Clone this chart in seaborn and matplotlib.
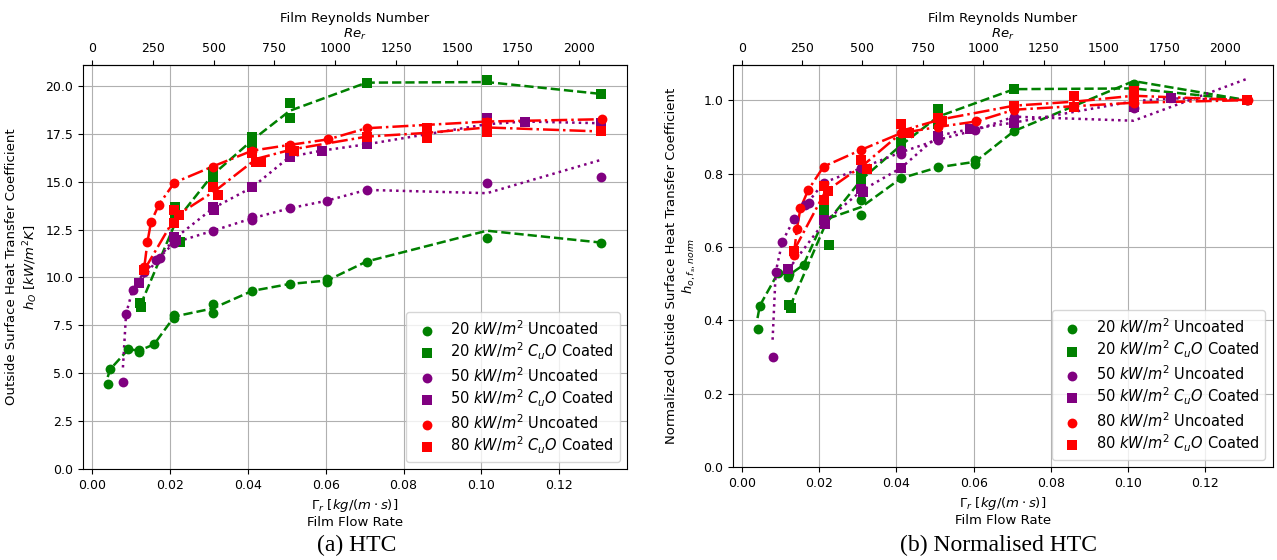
import matplotlib
matplotlib.use("Agg")
import matplotlib.pyplot as plt
import seaborn as sns

# film flow rate Gamma_r [kg/(m s)] -> film Reynolds number
RE_FACTOR = 16000
re_ticks = [0, 250, 500, 750, 1000, 1250, 1500, 1750, 2000]

labels = [
    "20 $kW/m^2$ Uncoated",
    "20 $kW/m^2$ $C_uO$ Coated",
    "50 $kW/m^2$ Uncoated",
    "50 $kW/m^2$ $C_uO$ Coated",
    "80 $kW/m^2$ Uncoated",
    "80 $kW/m^2$ $C_uO$ Coated",
]

# 20 kW/m2 uncoated
u20_x = [0.0041, 0.0047, 0.0094, 0.0121, 0.0122, 0.0160, 0.0212, 0.0212, 0.0310, 0.0310,
         0.0412, 0.0508, 0.0604, 0.0604, 0.0705, 0.1014, 0.1307]
u20_htc = [4.44, 5.20, 6.25, 6.13, 6.22, 6.51, 7.90, 8.02, 8.13, 8.62,
           9.30, 9.66, 9.78, 9.90, 10.83, 12.08, 11.82]
u20_norm = [0.376, 0.440, 0.529, 0.519, 0.526, 0.551, 0.668, 0.679, 0.688, 0.729,
            0.787, 0.817, 0.827, 0.838, 0.916, 1.045, 1.000]
u20_line_x = [0.0041, 0.0047, 0.0094, 0.0122, 0.0160, 0.0212, 0.0310, 0.0412, 0.0508,
              0.0604, 0.0705, 0.1014, 0.1307]
u20_line_htc = [4.80, 5.20, 6.25, 6.18, 6.51, 7.96, 8.38, 9.30, 9.66, 9.84, 10.83, 12.44, 11.82]
u20_line_norm = [0.406, 0.440, 0.529, 0.523, 0.551, 0.673, 0.709, 0.787, 0.817, 0.832,
                 0.916, 1.052, 1.000]

# 20 kW/m2 CuO coated
c20_x = [0.0123, 0.0127, 0.0213, 0.0213, 0.0226, 0.0310, 0.0310, 0.0412, 0.0412, 0.0508,
         0.0508, 0.0705, 0.1014, 0.1307]
c20_htc = [8.65, 8.48, 13.70, 13.35, 11.87, 15.20, 15.50, 17.35, 17.00, 19.10,
           18.30, 20.17, 20.30, 19.58]
c20_norm = [0.442, 0.433, 0.700, 0.682, 0.606, 0.776, 0.792, 0.886, 0.868, 0.975,
            0.935, 1.030, 1.037, 1.000]
c20_line_x = [0.0125, 0.0217, 0.0310, 0.0412, 0.0508, 0.0705, 0.1014, 0.1307]
c20_line_htc = [8.56, 12.97, 15.35, 17.17, 18.70, 20.17, 20.20, 19.58]
c20_line_norm = [0.437, 0.662, 0.784, 0.877, 0.955, 1.030, 1.032, 1.000]

# 50 kW/m2 uncoated
u50_x = [0.0080, 0.0088, 0.0105, 0.0135, 0.0164, 0.0174, 0.0212, 0.0310, 0.0412, 0.0412,
         0.0508, 0.0604, 0.0705, 0.1014, 0.1307]
u50_htc = [4.56, 8.10, 9.37, 10.30, 10.91, 11.00, 11.82, 12.43, 13.18, 13.00,
           13.61, 14.01, 14.57, 14.92, 15.26]
u50_norm = [0.299, 0.531, 0.614, 0.675, 0.715, 0.721, 0.775, 0.815, 0.864, 0.852,
            0.892, 0.918, 0.955, 0.978, 1.000]
u50_line_x = [0.0080, 0.0088, 0.0105, 0.0135, 0.0169, 0.0212, 0.0310, 0.0412, 0.0508,
              0.0604, 0.0705, 0.1014, 0.1307]
u50_line_htc = [5.30, 8.10, 9.37, 10.30, 10.95, 11.82, 12.43, 13.09, 13.61, 14.01,
                14.57, 14.40, 16.14]
u50_line_norm = [0.347, 0.531, 0.614, 0.675, 0.718, 0.775, 0.815, 0.858, 0.892, 0.918,
                 0.955, 0.944, 1.058]

# 50 kW/m2 CuO coated
c50_x = [0.0121, 0.0212, 0.0215, 0.0310, 0.0313, 0.0412, 0.0508, 0.0590, 0.0705, 0.1014,
         0.1014, 0.1112, 0.1307]
c50_htc = [9.73, 12.13, 11.95, 13.70, 13.52, 14.71, 16.30, 16.62, 16.95, 18.30,
           17.70, 18.14, 18.05]
c50_norm = [0.539, 0.672, 0.662, 0.759, 0.749, 0.815, 0.903, 0.921, 0.939, 1.014,
            0.981, 1.005, 1.000]
c50_line_x = [0.0121, 0.0213, 0.0311, 0.0412, 0.0508, 0.0590, 0.0705, 0.1014, 0.1112, 0.1307]
c50_line_htc = [9.73, 12.04, 13.61, 14.71, 16.30, 16.62, 16.95, 18.00, 18.14, 18.05]
c50_line_norm = [0.539, 0.667, 0.754, 0.815, 0.903, 0.921, 0.939, 0.997, 1.005, 1.000]

# 80 kW/m2 uncoated
u80_x = [0.0135, 0.0143, 0.0152, 0.0172, 0.0212, 0.0310, 0.0412, 0.0508, 0.0607, 0.0705,
         0.1014, 0.1310]
u80_htc = [10.56, 11.87, 12.88, 13.79, 14.95, 15.79, 16.62, 16.92, 17.21, 17.79, 18.14, 18.26]
u80_norm = [0.578, 0.650, 0.705, 0.755, 0.819, 0.865, 0.910, 0.927, 0.942, 0.974, 0.993, 1.000]
u80_line_x = u80_x
u80_line_htc = u80_htc
u80_line_norm = u80_norm

# 80 kW/m2 CuO coated
c80_x = [0.0135, 0.0212, 0.0212, 0.0224, 0.0310, 0.0324, 0.0412, 0.0421, 0.0433, 0.0508,
         0.0518, 0.0705, 0.0861, 0.0861, 0.1014, 0.1014, 0.1307]
c80_htc = [10.40, 13.52, 12.85, 13.25, 14.74, 14.31, 16.48, 16.05, 16.05, 16.75,
           16.60, 17.35, 17.80, 17.30, 18.05, 17.60, 17.62]
c80_norm = [0.590, 0.767, 0.729, 0.752, 0.837, 0.812, 0.935, 0.911, 0.911, 0.951,
            0.942, 0.985, 1.010, 0.982, 1.024, 0.999, 1.000]
c80_line_x = [0.0135, 0.0216, 0.0317, 0.0422, 0.0513, 0.0705, 0.0861, 0.1014, 0.1307]
c80_line_htc = [10.40, 13.21, 14.53, 16.19, 16.68, 17.35, 17.55, 17.83, 17.62]
c80_line_norm = [0.590, 0.750, 0.825, 0.919, 0.947, 0.985, 0.996, 1.012, 1.000]


series = [
    (u20_x, u20_htc, u20_norm, u20_line_x, u20_line_htc, u20_line_norm, "green", "o", "--"),
    (c20_x, c20_htc, c20_norm, c20_line_x, c20_line_htc, c20_line_norm, "green", "s", "--"),
    (u50_x, u50_htc, u50_norm, u50_line_x, u50_line_htc, u50_line_norm, "purple", "o", ":"),
    (c50_x, c50_htc, c50_norm, c50_line_x, c50_line_htc, c50_line_norm, "purple", "s", ":"),
    (u80_x, u80_htc, u80_norm, u80_line_x, u80_line_htc, u80_line_norm, "red", "o", "-."),
    (c80_x, c80_htc, c80_norm, c80_line_x, c80_line_htc, c80_line_norm, "red", "s", "-."),
]


def draw_panel(ax, which, ylabel):
    for lab, (px, ph, pn, lx, lh, ln, col, mk, ls) in zip(labels, series):
        py = ph if which == "htc" else pn
        ly = lh if which == "htc" else ln
        sns.lineplot(x=lx, y=ly, ax=ax, color=col, linestyle=ls, linewidth=1.8,
                     estimator=None, sort=False, label="_nolegend_")
        sns.scatterplot(x=px, y=py, ax=ax, color=col, marker=mk, s=50,
                        linewidth=0, label=lab, zorder=3)
    ax.set_ylim(bottom=0)
    ax.grid(True, color="#b0b0b0", linewidth=0.8)
    ax.set_xlabel("$\\Gamma_r$ $[kg/(m \\cdot s)]$\nFilm Flow Rate", fontsize=9.5)
    ax.set_ylabel(ylabel, fontsize=9.5)
    ax.tick_params(labelsize=9)
    ax.legend(loc="lower right", fontsize=10.5, labelspacing=0.2,
              handletextpad=0.6, framealpha=0.8)
    top = ax.secondary_xaxis("top", functions=(lambda g: g * RE_FACTOR,
                                               lambda r: r / RE_FACTOR))
    top.set_xticks(re_ticks)
    top.set_xlabel("Film Reynolds Number\n$Re_r$", fontsize=9.5, labelpad=3)
    top.tick_params(labelsize=9)


plt.rcParams["font.family"] = ["DejaVu Sans"]
fig = plt.figure(figsize=(12.77, 5.6), dpi=100)
ax1 = fig.add_axes([0.065, 0.1625, 0.426, 0.7215])
ax2 = fig.add_axes([0.574, 0.166, 0.4225, 0.718])

draw_panel(ax1, "htc", "Outside Surface Heat Transfer Coefficient\n$h_O$ $[kW/m^2K]$")
draw_panel(ax2, "norm", "Normalized Outside Surface Heat Transfer Coefficient\n$h_{o,f_s,norm}$")

fig.text(357 / 1277, 1 - 545 / 560, "(a) HTC", ha="center", va="center",
         family="Liberation Serif", fontsize=17)
fig.text(998 / 1277, 1 - 545 / 560, "(b) Normalised HTC", ha="center", va="center",
         family="Liberation Serif", fontsize=17)

fig.savefig("out.png", dpi=100)
